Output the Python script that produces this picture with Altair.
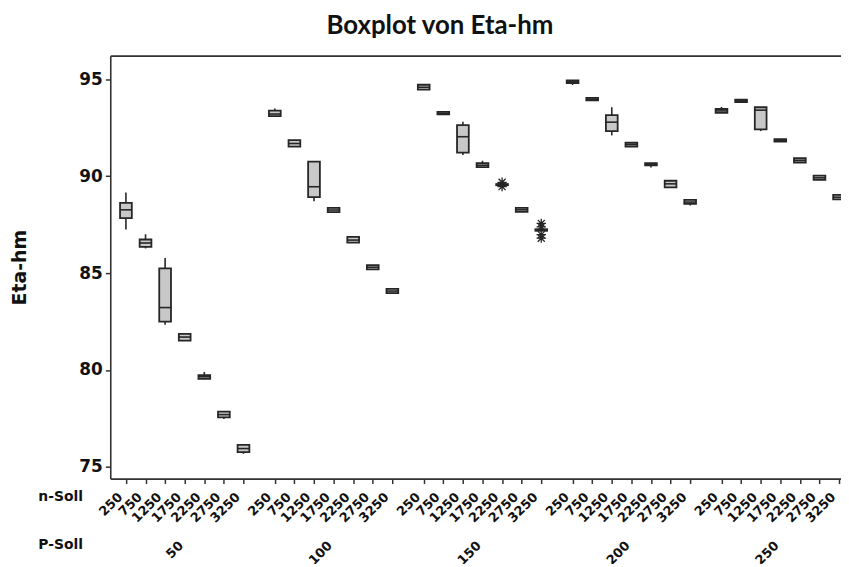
import altair as alt
import pandas as pd

P_SOLL = [50, 100, 150, 200, 250]
N_SOLL = [250, 750, 1250, 1750, 2250, 2750, 3250]

# box summaries, ordered by P-Soll, then n-Soll
W_LOW = [87.25, 86.27, 82.34, 81.50, 79.52, 77.47, 75.68,
         93.07, 91.50, 88.70, 88.13, 86.55, 85.18, 83.95,
         94.45, 93.17, 91.09, 90.45, 89.53, 88.15, 87.17,
         94.70, 93.90, 92.10, 91.50, 90.44, 89.41, 88.48,
         93.25, 93.81, 92.32, 91.77, 90.69, 89.79, 88.79]
Q1 = [87.83, 86.35, 82.50, 81.52, 79.54, 77.56, 75.77,
      93.09, 91.52, 88.91, 88.14, 86.57, 85.19, 83.96,
      94.46, 93.18, 91.21, 90.46, 89.53, 88.16, 87.18,
      94.80, 93.91, 92.32, 91.52, 90.55, 89.42, 88.57,
      93.26, 93.82, 92.41, 91.78, 90.70, 89.80, 88.80]
MED = [88.26, 86.55, 83.22, 81.70, 79.65, 77.70, 75.95,
       93.20, 91.68, 89.45, 88.25, 86.70, 85.30, 84.07,
       94.58, 93.24, 92.03, 90.56, 89.56, 88.26, 87.22,
       94.86, 93.97, 92.78, 91.62, 90.60, 89.60, 88.66,
       93.36, 93.88, 93.40, 91.84, 90.81, 89.91, 88.91]
Q3 = [88.62, 86.73, 85.24, 81.86, 79.74, 77.85, 76.14,
      93.38, 91.85, 90.75, 88.36, 86.86, 85.41, 84.18,
      94.71, 93.31, 92.63, 90.67, 89.59, 88.36, 87.26,
      94.93, 94.03, 93.14, 91.72, 90.67, 89.76, 88.77,
      93.46, 93.94, 93.55, 91.90, 90.92, 90.02, 89.03]
W_HIGH = [89.16, 87.00, 85.77, 81.88, 79.90, 77.87, 76.15,
          93.48, 91.87, 90.77, 88.37, 86.91, 85.42, 84.19,
          94.72, 93.32, 92.80, 90.79, 89.59, 88.37, 87.27,
          94.95, 94.04, 93.55, 91.73, 90.68, 89.77, 88.78,
          93.57, 93.95, 93.56, 91.91, 90.93, 90.03, 89.04]

OUT_P = [150, 150, 150, 150, 150, 150]
OUT_N = [2250, 2250, 3250, 3250, 3250, 3250]
OUT_V = [89.68, 89.46, 87.56, 87.38, 86.98, 86.80]

GROUP_STEP = 7.6   # slots per P-Soll group (7 boxes + gap)
HALF_BOX = 0.3

rows = []
k = 0
for gi, p in enumerate(P_SOLL):
    for ni, n in enumerate(N_SOLL):
        pos = gi * GROUP_STEP + ni
        rows.append(dict(P=p, n=n, pos=pos, left=pos - HALF_BOX, right=pos + HALF_BOX,
                         wlow=W_LOW[k], q1=Q1[k], med=MED[k], q3=Q3[k], whigh=W_HIGH[k]))
        k += 1
df = pd.DataFrame(rows)

out_rows = []
for p, n, v in zip(OUT_P, OUT_N, OUT_V):
    pos = P_SOLL.index(p) * GROUP_STEP + N_SOLL.index(n)
    out_rows.append(dict(P=p, n=n, pos=pos, v=v))
df_out = pd.DataFrame(out_rows)

df_grp = pd.DataFrame({"P": P_SOLL,
                       "center": [gi * GROUP_STEP + (len(N_SOLL) - 1) / 2 for gi in range(len(P_SOLL))]})

X_DOMAIN = [-0.8, 36.5]
Y_DOMAIN = [74.4, 96.21]
xscale = alt.Scale(domain=X_DOMAIN, nice=False, zero=False)
yscale = alt.Scale(domain=Y_DOMAIN, nice=False, zero=False)

FONT = "DejaVu Sans"
TXT = "#111111"
LINE = "#333333"
BOXLINE = "#262626"

yaxis = alt.Axis(values=[75, 80, 85, 90, 95], grid=False, tickSize=5, tickColor=LINE,
                 domainColor=LINE, domainWidth=1.6, tickWidth=1.5,
                 labelFont=FONT, labelFontWeight="bold", labelFontSize=17, labelColor=TXT,
                 labelPadding=3, title="Eta-hm", titleFont=FONT, titleFontWeight="bold",
                 titleFontSize=19, titleColor=TXT, titleX=-91, titleY=213,
                 titleAlign="center", titleBaseline="middle", titleAngle=270)

n_expr = "[" + ",".join("'%d'" % n for n in N_SOLL) + "][round(datum.value - %g*floor((datum.value+0.5)/%g))]" % (GROUP_STEP, GROUP_STEP)
p_expr = "[" + ",".join("'%d'" % p for p in P_SOLL) + "][round((datum.value-%g)/%g)]" % ((len(N_SOLL) - 1) / 2, GROUP_STEP)

n_axis = alt.Axis(values=df["pos"].tolist(), labelExpr=n_expr, grid=False,
                  tickSize=5, tickColor=LINE, tickWidth=1.5, domainColor=LINE, domainWidth=1.6,
                  labelAngle=315, labelAlign="right", labelBaseline="middle",
                  labelFont=FONT, labelFontWeight="bold", labelFontSize=13, labelColor=TXT,
                  labelOffset=-6, labelPadding=11, labelOverlap=False, labelFlush=False,
                  labelBound=False,
                  title="n-Soll", titleFont=FONT, titleFontWeight="bold", titleFontSize=14,
                  titleColor=TXT, titleAngle=0, titleX=-73, titleY=18,
                  titleAlign="left", titleBaseline="middle")

p_axis = alt.Axis(values=df_grp["center"].tolist(), labelExpr=p_expr, grid=False,
                  ticks=False, domain=False, offset=50,
                  labelAngle=315, labelAlign="right", labelBaseline="middle",
                  labelFont=FONT, labelFontWeight="bold", labelFontSize=13, labelColor=TXT,
                  labelOffset=-4, labelPadding=15, labelOverlap=False, labelFlush=False,
                  labelBound=False,
                  title="P-Soll", titleFont=FONT, titleFontWeight="bold", titleFontSize=14,
                  titleColor=TXT, titleAngle=0, titleX=-73, titleY=16,
                  titleAlign="left", titleBaseline="middle")

top_axis = alt.Axis(orient="top", labels=False, ticks=False, grid=False,
                    domainColor=LINE, domainWidth=1.6, title=None)

base = alt.Chart(df)

whiskers = base.mark_rule(color=BOXLINE, strokeWidth=1.6).encode(
    x=alt.X("pos:Q", scale=xscale, axis=top_axis),
    y=alt.Y("wlow:Q", scale=yscale, axis=yaxis),
    y2="whigh:Q",
)

boxes = base.mark_rect(fill="#c8c8c8", stroke=BOXLINE, strokeWidth=1.8).encode(
    x=alt.X("left:Q", scale=xscale, axis=n_axis),
    x2="right:Q",
    y=alt.Y("q1:Q", scale=yscale, axis=yaxis),
    y2="q3:Q",
)

medians = base.mark_rule(color=BOXLINE, strokeWidth=1.6).encode(
    x=alt.X("left:Q", scale=xscale, axis=None),
    x2="right:Q",
    y=alt.Y("med:Q", scale=yscale, axis=yaxis),
)

ASTERISK = "M-1,0L1,0M0,-1L0,1M-0.75,-0.75L0.75,0.75M-0.75,0.75L0.75,-0.75"
outliers = alt.Chart(df_out).mark_point(shape=ASTERISK, filled=False, stroke=BOXLINE,
                                        strokeWidth=1.3, size=90, opacity=1).encode(
    x=alt.X("pos:Q", scale=xscale, axis=None),
    y=alt.Y("v:Q", scale=yscale, axis=yaxis),
)

groups = alt.Chart(df_grp).mark_point(opacity=0).encode(
    x=alt.X("center:Q", scale=xscale, axis=p_axis),
    y=alt.value(0),
)

chart = alt.layer(whiskers, boxes, medians, outliers, groups).resolve_axis(
    x="independent"
).properties(
    width=736, height=426,
    padding={"left": 103, "top": 46, "right": 0, "bottom": 84},
    autosize=alt.AutoSizeParams(type="none"),
    title=alt.TitleParams("Boxplot von Eta-hm", font="Lato", fontSize=26, fontWeight="bold",
                          color=TXT, anchor="middle", dx=-36, offset=14),
).configure_view(stroke=None).configure(background="white")

chart.save("out.html", embed_options={"renderer": "svg", "actions": False})
